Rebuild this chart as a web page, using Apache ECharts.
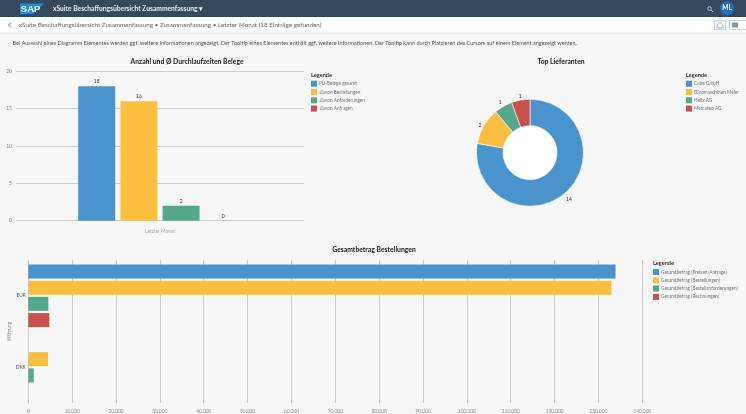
<!DOCTYPE html>
<html>
<head>
<meta charset="utf-8">
<title>xSuite Beschaffungsübersicht</title>
<script src="https://cdn.jsdelivr.net/npm/echarts@6/dist/echarts.min.js"></script>
<style>
html, body { margin: 0; padding: 0; background: #f7f7f7; }
#main { width: 746px; height: 414px; }
</style>
</head>
<body>
<div id="main"></div>
<script>
// Daten
var belegKategorien = ['Letzter Monat'];
var belegNamen = ['PU-Belege gesamt', '.davon Bestellungen', '.davon Anforderungen', '.davon Anfragen'];
var belegWerte = [18, 16, 2, 0];

var lieferanten = ['Cube GmbH', 'Büromaschinen Meier', 'Helix AG', 'Mercateo AG'];
var lieferantenWerte = [14, 2, 1, 1];

var waehrungen = ['EUR', 'DKK'];
var betragNamen = ['Gesamtbetrag (Preisen/Anfrage)', 'Gesamtbetrag (Bestellungen)', 'Gesamtbetrag (Bestellanforderungen)', 'Gesamtbetrag (Rechnungen)'];
var betragFreigabe = [133900, null];
var betragBestellungen = [132950, 4490];
var betragAnforderungen = [4560, 1230];
var betragRechnungen = [4790, null];

var farben = ['#4a93cd', '#fbbf3f', '#55a88a', '#c9504f'];
var schrift = 'Lato, "Noto Sans", sans-serif';

var myChart = echarts.init(document.getElementById('main'));

function legende(id, namen, left, top) {
	return {
		id: id,
		data: namen,
		orient: 'vertical',
		left: left,
		top: top,
		padding: 0,
		itemWidth: 6,
		itemHeight: 6,
		itemGap: 2.3,
		icon: 'rect',
		selectedMode: false,
		itemStyle: { borderWidth: 0 },
		textStyle: { fontSize: 4.7, color: '#777', fontFamily: schrift, padding: [0, 0, 0, -3] }
	};
}

function ueberschrift(text, x, y) {
	return { text: text, left: x, top: y, textAlign: 'center', padding: 0,
		textStyle: { fontSize: 6.8, fontWeight: 'bold', color: '#222', fontFamily: schrift } };
}

function legendenTitel(x, y) {
	return { text: 'Legende', left: x, top: y, padding: 0,
		textStyle: { fontSize: 5.6, fontWeight: 'bold', color: '#333', fontFamily: schrift } };
}

var series = [];

// oben links: Anzahl Belege
belegNamen.forEach(function (name, i) {
	series.push({
		name: name,
		type: 'bar',
		xAxisIndex: 0,
		yAxisIndex: 0,
		barWidth: 37,
		barGap: '14%',
		itemStyle: { color: farben[i] },
		label: { show: true, position: 'top', distance: 2, fontSize: 5, color: '#333', fontFamily: schrift },
		data: [belegWerte[i]]
	});
});

// oben rechts: Top Lieferanten
series.push({
	type: 'pie',
	center: [530, 152.7],
	radius: [27, 53.5],
	startAngle: 90,
	avoidLabelOverlap: false,
	itemStyle: { borderColor: '#fff', borderWidth: 0.6 },
	label: { show: true, formatter: '{c}', fontSize: 5, color: '#333', fontFamily: schrift },
	labelLine: { show: false, length: 1, length2: 0 },
	// Beschriftungen etwas naeher an den Ring
	labelLayout: function (p) {
		var versatz = [[-4, 5], [3.6, 0], [4, -3], [6, -3]];
		return { dx: versatz[p.dataIndex][0], dy: versatz[p.dataIndex][1] };
	},
	emphasis: { disabled: true },
	data: lieferanten.map(function (name, i) {
		return { name: name, value: lieferantenWerte[i], itemStyle: { color: farben[i] } };
	})
});

// unten: Gesamtbetrag
[betragFreigabe, betragBestellungen, betragAnforderungen, betragRechnungen].forEach(function (werte, i) {
	series.push({
		name: betragNamen[i],
		type: 'bar',
		xAxisIndex: 1,
		yAxisIndex: 1,
		barWidth: 14,
		barGap: '16%',
		itemStyle: { color: farben[i] },
		data: werte
	});
});

var option = {
	backgroundColor: '#f7f7f7',
	animation: false,
	color: farben,
	title: [
		ueberschrift('Anzahl und Ø Durchlaufzeiten Belege', 187, 58.5),
		ueberschrift('Top Lieferanten', 561, 58.5),
		ueberschrift('Gesamtbetrag Bestellungen', 374, 246.5),
		legendenTitel(311, 72),
		legendenTitel(686, 72),
		legendenTitel(653, 260.5)
	],
	legend: [
		legende('l1', belegNamen, 311, 80.7),
		legende('l2', lieferanten, 686, 80.7),
		legende('l3', betragNamen, 653, 269)
	],
	grid: [
		{ left: 16, width: 288, top: 71.3, height: 149.4, outerBoundsMode: 'none' },
		{ left: 28.3, width: 614, top: 260, height: 143, outerBoundsMode: 'none' }
	],
	xAxis: [
		{
			type: 'category',
			gridIndex: 0,
			data: belegKategorien,
			axisLine: { show: false },
			axisTick: { show: false },
			axisLabel: { fontSize: 4.8, color: '#aaa', margin: 8.5, fontFamily: schrift }
		},
		{
			type: 'value',
			gridIndex: 1,
			min: 0,
			max: 140000,
			interval: 10000,
			axisLine: { show: false },
			axisTick: { show: false },
			splitLine: { lineStyle: { color: '#cdcdcd', width: 1 } },
			axisLabel: {
				fontSize: 4.8, color: '#888', margin: 6, fontFamily: schrift,
				formatter: function (v) { return String(v).replace(/\B(?=(\d{3})+$)/g, '.'); }
			}
		}
	],
	yAxis: [
		{
			type: 'value',
			gridIndex: 0,
			min: 0,
			max: 20,
			interval: 5,
			axisLine: { show: false },
			axisTick: { show: false },
			splitLine: { lineStyle: { color: '#cdcdcd', width: 1 } },
			axisLabel: { fontSize: 5, color: '#888', margin: 4, fontFamily: schrift }
		},
		{
			type: 'category',
			gridIndex: 1,
			data: waehrungen,
			inverse: true,
			name: 'Währung',
			nameLocation: 'middle',
			nameGap: 16,
			nameMoveOverlap: false,
			nameTextStyle: { fontSize: 4.8, color: '#888', fontFamily: schrift },
			axisLine: { lineStyle: { color: '#cdcdcd', width: 1 } },
			axisTick: { show: false },
			axisLabel: { fontSize: 4.8, color: '#555', margin: 2.5, fontFamily: schrift }
		}
	],
	graphic: [
		// Shell-Leiste
		{ type: 'rect', shape: { x: 0, y: 0, width: 746, height: 17 }, style: { fill: '#354a5f' } },
		{ type: 'rect', shape: { x: 0, y: 17, width: 746, height: 15.5 }, style: { fill: '#fff', shadowBlur: 2, shadowColor: 'rgba(0,0,0,0.15)' } },
		{ type: 'polygon', shape: { points: [[20, 3.5], [44, 3.5], [33, 14], [20, 14]] }, style: { fill: '#1b8fe0' } },
		{ type: 'text', x: 20.8, y: 4.3, style: { text: 'SAP', fill: '#fff', font: 'bold 9.5px "Liberation Sans"' } },
		{ type: 'text', x: 53, y: 5.2, style: { text: 'xSuite Beschaffungsübersicht Zusammenfassung ▾', fill: '#e8edf2', font: 'bold 6.7px ' + schrift } },
		{ type: 'circle', shape: { cx: 709.5, cy: 8.5, r: 1.8 }, style: { fill: 'none', stroke: '#c6d2de', lineWidth: 0.9 } },
		{ type: 'line', shape: { x1: 711, y1: 10, x2: 713, y2: 12 }, style: { stroke: '#c6d2de', lineWidth: 0.9 } },
		{ type: 'circle', shape: { cx: 727, cy: 8.3, r: 7 }, style: { fill: '#1f6fbd' } },
		{ type: 'text', x: 727, y: 8.3, style: { text: 'ML', fill: '#fff', font: 'bold 6.5px ' + schrift, align: 'center', verticalAlign: 'middle' } },
		{ type: 'polyline', shape: { points: [[11, 22.5], [8.5, 25], [11, 27.5]] }, style: { stroke: '#4a6a8a', fill: 'none', lineWidth: 0.9 } },
		{ type: 'text', x: 19, y: 21.5, style: { text: 'xSuite Beschaffungsübersicht Zusammenfassung • Zusammenfassung • Letzter Monat (18 Einträge gefunden)', fill: '#666', font: '6.3px ' + schrift } },
		{ type: 'rect', shape: { x: 714.5, y: 20.5, width: 11, height: 9 }, style: { fill: '#fff', stroke: '#9fb8cf', lineWidth: 0.6 } },
		{ type: 'polygon', shape: { points: [[720, 22], [723, 24.8], [723, 28], [717, 28], [717, 24.8]] }, style: { fill: 'none', stroke: '#5a7f9f', lineWidth: 0.6 } },
		{ type: 'rect', shape: { x: 729.5, y: 20.5, width: 17, height: 9 }, style: { fill: '#fff', stroke: '#9fb8cf', lineWidth: 0.6 } },
		{ type: 'rect', shape: { x: 732, y: 22.5, width: 6, height: 5 }, style: { fill: '#7d97ae' } },
		{ type: 'text', x: 12.5, y: 40.2, style: { text: 'Bei Auswahl eines Diagramm Elementes werden ggf. weitere Informationen angezeigt. Der Tooltip eines Elementes enthält ggf. weitere Informationen. Der Tooltip kann durch Platzieren des Cursors auf einem Element angezeigt werden.', fill: '#555', font: '5.5px ' + schrift } },
		// weisse Mitte des Rings
		{ type: 'circle', shape: { cx: 530, cy: 152.7, r: 27.5 }, style: { fill: '#fff' } }
	],
	series: series
};

myChart.setOption(option);
</script>
</body>
</html>
